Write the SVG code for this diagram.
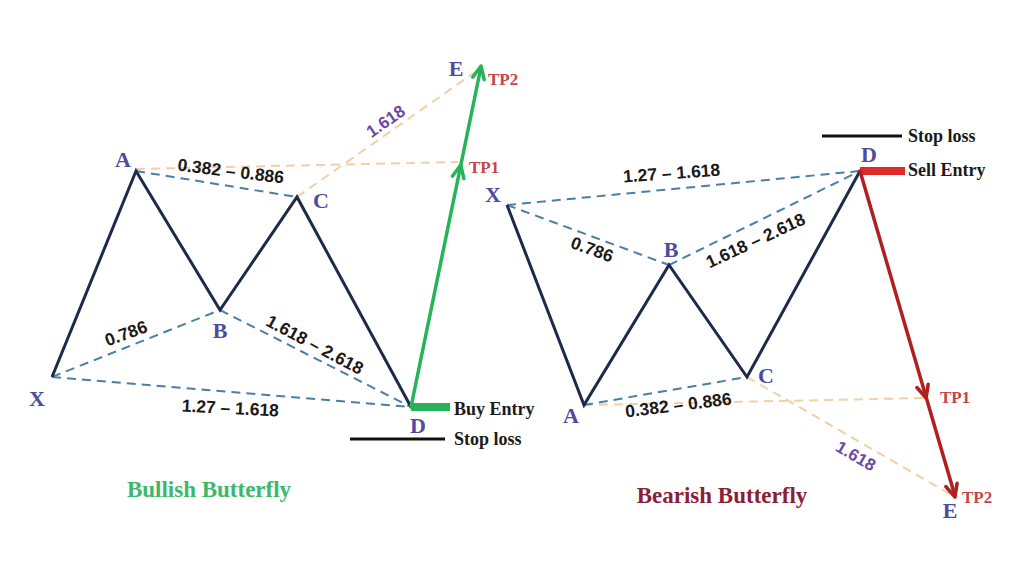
<svg xmlns="http://www.w3.org/2000/svg" width="1024" height="576" viewBox="0 0 1024 576">
<style>
.zig{fill:none;stroke:#1e2a4a;stroke-width:3;stroke-linejoin:miter}
.db{fill:none;stroke:#4a7fa6;stroke-width:2;stroke-dasharray:9 6}
.do{fill:none;stroke:#f2cfa6;stroke-width:2;stroke-dasharray:9 6}
.pt{font-family:"Liberation Serif","Times New Roman",serif;font-weight:bold;font-size:22px;fill:#4d4d9e;text-anchor:middle}
.ratio{font-family:"Liberation Sans",Arial,sans-serif;font-weight:bold;font-size:17.5px;fill:#1a1a1a;text-anchor:middle}
.fib{font-family:"Liberation Sans",Arial,sans-serif;font-weight:bold;font-size:17px;fill:#6a4a9e;text-anchor:middle}
.tp{font-family:"Liberation Serif","Times New Roman",serif;font-weight:bold;font-size:17px;fill:#c4464a}
.lbl{font-family:"Liberation Serif","Times New Roman",serif;font-weight:bold;font-size:18px;fill:#1a1a1a}
.title{font-family:"Liberation Serif","Times New Roman",serif;font-weight:bold;font-size:23px;text-anchor:middle}
.ga{fill:none;stroke:#27b358;stroke-width:3.5;stroke-linecap:round;stroke-linejoin:round}
.ra{fill:none;stroke:#b01f22;stroke-width:3.5;stroke-linecap:round;stroke-linejoin:round}
</style>
<rect width="1024" height="576" fill="#ffffff"/>
<g id="connectors">
  <line class="do" x1="136" y1="169" x2="458" y2="162"/>
  <line class="do" x1="297" y1="197" x2="478" y2="70"/>
  <line class="db" x1="136" y1="171" x2="297" y2="197"/>
  <line class="db" x1="52" y1="377" x2="220" y2="310"/>
  <line class="db" x1="220" y1="310" x2="411" y2="407"/>
  <line class="db" x1="52" y1="377" x2="411" y2="407"/>
  <polyline class="zig" points="52,377 136,171 220,310 297,197 411,407"/>
  <line class="do" x1="584" y1="405" x2="925" y2="398"/>
  <line class="do" x1="747" y1="377" x2="955" y2="497"/>
  <line class="db" x1="507" y1="205" x2="860" y2="171"/>
  <line class="db" x1="507" y1="205" x2="669" y2="265"/>
  <line class="db" x1="669" y1="265" x2="860" y2="171"/>
  <line class="db" x1="584" y1="405" x2="747" y2="377"/>
  <polyline class="zig" points="507,205 584,405 669,265 747,377 860,171"/>
</g>
<g id="bullish-trade">
  <rect x="411" y="403" width="39" height="8" fill="#27b358"/>
  <line x1="350" y1="439" x2="445" y2="439" stroke="#111" stroke-width="3"/>
  <line class="ga" x1="411" y1="407" x2="481" y2="67"/>
  <polyline class="ga" points="452.4,176.2 460.7,165 463.9,178.6"/>
  <polyline class="ga" points="472.7,77.2 481,66 484.2,79.6"/>
</g>
<g id="bearish-trade">
  <rect x="860" y="167" width="45" height="8" fill="#e02a2a"/>
  <line x1="822" y1="136" x2="902" y2="136" stroke="#111" stroke-width="3"/>
  <line class="ra" x1="860" y1="171" x2="955" y2="496"/>
  <polyline class="ra" points="928.2,384.2 926.1,398 916.9,387.5"/>
  <polyline class="ra" points="957.1,483.2 955,497 945.8,486.5"/>
</g>
<g id="bullish-labels">
  <text class="pt" x="37" y="406">X</text>
  <text class="pt" x="123" y="167">A</text>
  <text class="pt" x="220" y="338">B</text>
  <text class="pt" x="321" y="208">C</text>
  <text class="pt" x="418" y="433">D</text>
  <text class="pt" x="456" y="76">E</text>
  <text class="tp" x="488" y="85">TP2</text>
  <text class="tp" x="469" y="173">TP1</text>
  <text class="lbl" x="454" y="415">Buy Entry</text>
  <text class="lbl" x="454" y="445">Stop loss</text>
  <text class="ratio" transform="translate(230,177) rotate(7)">0.382 – 0.886</text>
  <text class="ratio" transform="translate(128,339) rotate(-20)">0.786</text>
  <text class="ratio" transform="translate(312,350) rotate(28)">1.618 – 2.618</text>
  <text class="ratio" transform="translate(230,414) rotate(3)">1.27 – 1.618</text>
  <text class="fib" transform="translate(389,126) rotate(-35)">1.618</text>
  <text class="title" x="209" y="497" fill="#3cb86a">Bullish Butterfly</text>
</g>
<g id="bearish-labels">
  <text class="pt" x="493" y="202">X</text>
  <text class="pt" x="571" y="423">A</text>
  <text class="pt" x="671" y="257">B</text>
  <text class="pt" x="766" y="383">C</text>
  <text class="pt" x="869" y="162">D</text>
  <text class="pt" x="950" y="518">E</text>
  <text class="tp" x="940" y="403">TP1</text>
  <text class="tp" x="962" y="503">TP2</text>
  <text class="lbl" x="908" y="142">Stop loss</text>
  <text class="lbl" x="908" y="176">Sell Entry</text>
  <text class="ratio" transform="translate(672,179) rotate(-4)">1.27 – 1.618</text>
  <text class="ratio" transform="translate(590,255) rotate(20)">0.786</text>
  <text class="ratio" transform="translate(758,246) rotate(-25)">1.618 – 2.618</text>
  <text class="ratio" transform="translate(679,411) rotate(-7)">0.382 – 0.886</text>
  <text class="fib" transform="translate(853,461) rotate(30)">1.618</text>
  <text class="title" x="722" y="503" fill="#8a2038">Bearish Butterfly</text>
</g>
</svg>
